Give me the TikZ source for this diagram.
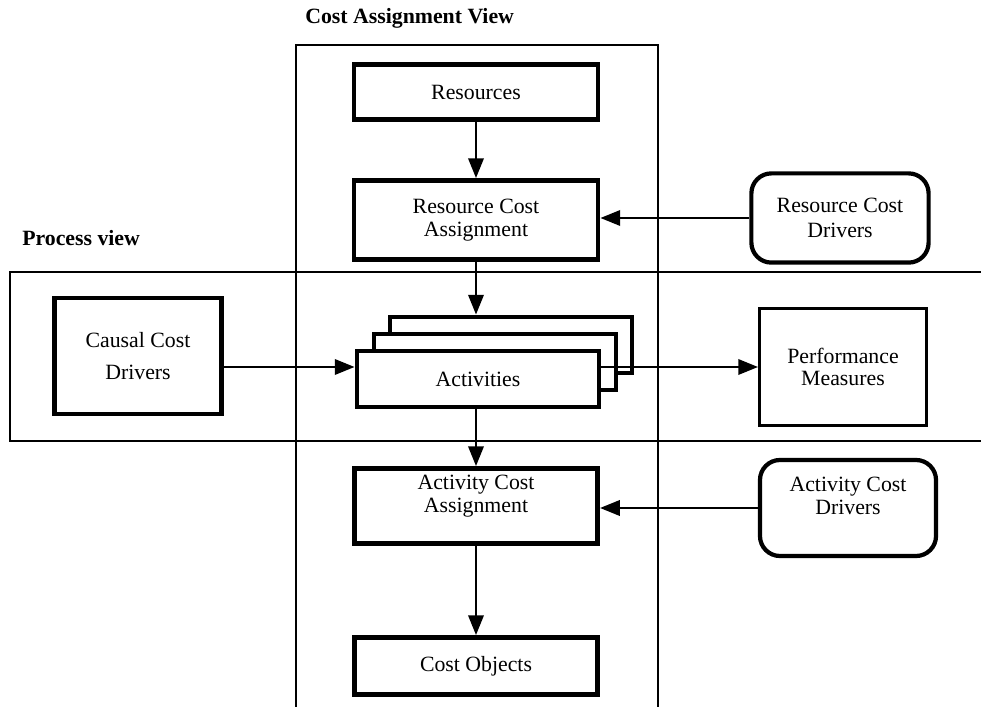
\documentclass[tikz,border=0pt]{standalone}
\usepackage{fontspec}
\setmainfont{Liberation Serif}
\usetikzlibrary{arrows.meta, positioning}

\begin{document}
\begin{tikzpicture}[
    x=0.025cm, y=-0.025cm,
    >={Triangle[length=14pt, width=11pt]},
    font=\fontsize{15.5}{16}\selectfont,
]
\tikzset{
    frame_line/.style = {line width=1pt},
    cost_box/.style = {draw, line width=3.5pt, fill=white, align=center, inner sep=2pt},
    driver_box/.style = {draw, line width=3pt, rounded corners=0.5cm, fill=white, align=center},
    measure_box/.style = {draw, line width=2pt, fill=white, align=center},
    flow/.style = {->, line width=1.4pt},
    view_title/.style = {font=\fontsize{15.5}{16}\selectfont\bfseries, anchor=west, inner sep=0pt},
}
\useasboundingbox (0,0) rectangle (981,707);

% View frames (open at the bottom and at the right)
\draw[frame_line] (296,707) -- (296,45) -- (658,45) -- (658,707);
\draw[frame_line] (981,272) -- (10,272) -- (10,441) -- (981,441);

% Titles
\node[view_title] (cav_title) at (305,18) {Cost Assignment View};
\node[view_title] (pv_title) at (22,238) {Process view};

% Cost assignment chain
\node[cost_box, minimum width=6.1cm, minimum height=1.375cm] (res) at (476,92) {Resources};
\node[cost_box, minimum width=6.1cm, minimum height=1.975cm] (rca) at (476,220) {Resource Cost\\Assignment};

% Stacked activities
\node[cost_box, minimum width=6.05cm, minimum height=1.4cm] (act_c) at (511,345) {};
\node[cost_box, minimum width=6.05cm, minimum height=1.4cm] (act_b) at (495,362) {};
\node[cost_box, minimum width=6.05cm, minimum height=1.4cm] (act_a) at (478,379) {Activities};

\node[cost_box, minimum width=6.08cm, minimum height=1.875cm, text depth=0.6cm] (aca) at (476,506) {Activity Cost\\Assignment};
\node[cost_box, minimum width=6.08cm, minimum height=1.425cm] (cobj) at (476,666) {Cost Objects};

% Drivers and measures
\node[cost_box, minimum width=4.18cm, minimum height=2.9cm] (ccd) at (138,356) {Causal Cost\\[7pt]Drivers};
\node[driver_box, minimum width=4.43cm, minimum height=2.23cm] (rcd) at (840,218) {Resource Cost\\[2pt]Drivers};
\node[measure_box, minimum width=4.18cm, minimum height=2.93cm] (pm) at (843,367) {Performance\\Measures};
\node[driver_box, minimum width=4.4cm, minimum height=2.4cm, text depth=0.6cm] (acd) at (848,508) {Activity Cost\\Drivers};

% Flows
\draw[flow] (res.south) -- (rca.north);
\draw[flow] (rca.south) -- (rca.south |- act_c.north);
\draw[flow] (act_a.south -| aca.north) -- (aca.north);
\draw[flow] (aca.south) -- (cobj.north);
\draw[flow] (rcd.west) -- (rcd.west -| rca.east);
\draw[flow] (acd.west) -- (acd.west -| aca.east);
\draw[flow] (ccd.east |- pm.west) -- (act_a.west |- pm.west);
\draw[flow] (act_a.east |- pm.west) -- (pm.west);

\end{tikzpicture}
\end{document}
